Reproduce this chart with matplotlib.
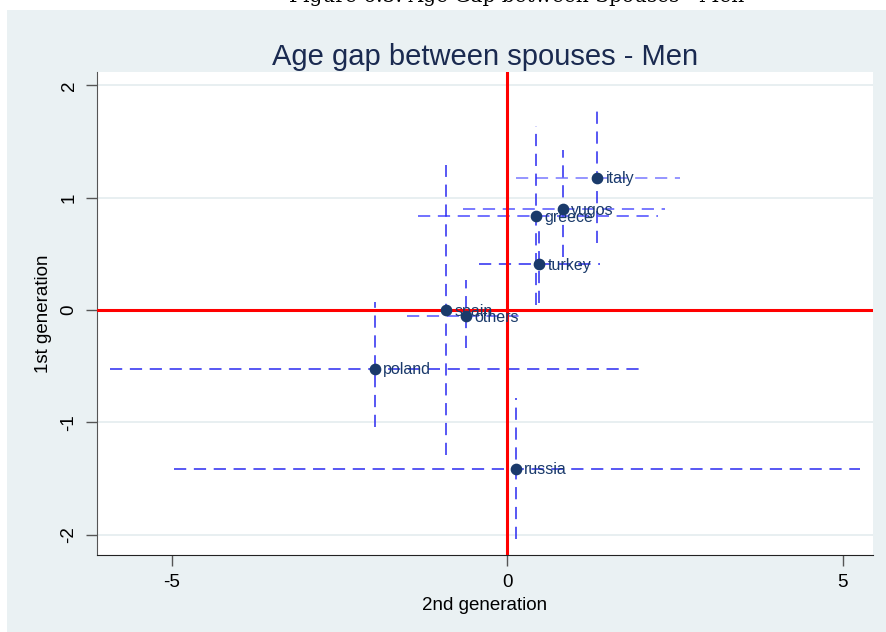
import matplotlib.pyplot as plt
from matplotlib.patches import Rectangle

plt.rcParams["axes.unicode_minus"] = False

# age gap estimates per origin group, with confidence bounds
countries = ["italy", "yugos", "greece", "turkey", "spain", "others", "poland", "russia"]
gen2 = [1.34, 0.83, 0.43, 0.48, -0.91, -0.61, -1.97, 0.13]
gen2_lo = [0.13, -0.66, -1.33, -0.42, -3.15, -1.49, -5.92, -4.96]
gen2_hi = [2.58, 2.35, 2.24, 1.39, 1.39, 0.20, 2.00, 5.26]
gen1 = [1.18, 0.90, 0.84, 0.41, 0.00, -0.05, -0.52, -1.41]
gen1_lo = [0.60, 0.47, 0.05, 0.06, -1.29, -0.34, -1.04, -2.04]
gen1_hi = [1.78, 1.43, 1.64, 0.77, 1.29, 0.27, 0.07, -0.78]
hbar_colors = ["#7878ff", "#5555ff", "#4a4aff", "#2a2af0", "#2a2af0", "#5555ff", "#2a2af0", "#2a2af0"]

navy = "#1a3a6a"
bg = "#eaf1f3"

fig = plt.figure(figsize=(8.87, 6.32), dpi=100)
fig.patch.set_facecolor("white")
fig.patches.append(Rectangle((7 / 887, 0), 1, 1 - 10 / 632, transform=fig.transFigure,
                             facecolor=bg, edgecolor="none", zorder=-10))

fig.text(0.582, 1.006, "Figure 6.5: Age Gap between Spouses - Men", ha="center", va="center",
         family="DejaVu Serif", fontsize=14.5, color="black")

ax = fig.add_axes([97 / 887, 1 - 555 / 632, (873 - 97) / 887, (555 - 72) / 632])
ax.set_facecolor("white")

dash = (0, (8, 5))
for i in range(len(countries)):
    ax.hlines(gen1[i], gen2_lo[i], gen2_hi[i], colors=hbar_colors[i], linestyles=dash, lw=1.1, zorder=2)
    ax.vlines(gen2[i], gen1_lo[i], gen1_hi[i], colors="#2a2af0", linestyles=dash, lw=1.1, zorder=2)

ax.axhline(0, color="red", lw=2.2, zorder=3)
ax.axvline(0, color="red", lw=2.2, zorder=3)

ax.scatter(gen2, gen1, s=55, color=navy, zorder=4)
for name, x, y in zip(countries, gen2, gen1):
    ax.annotate(name, (x, y), xytext=(6, -1), textcoords="offset points", va="center",
                fontsize=11.5, color=navy, family="Liberation Sans", zorder=5)

ax.set_xlim(-6.11, 5.45)
ax.set_ylim(-2.18, 2.12)
ax.set_xticks([-5, 0, 5])
ax.set_yticks([-2, -1, 0, 1, 2])
ax.grid(axis="y", color="#e4ecef", lw=1.2, zorder=0)
ax.grid(axis="x", visible=False)

for side in ["top", "right"]:
    ax.spines[side].set_visible(False)
ax.spines["left"].set_color("#555555")
ax.spines["bottom"].set_color("#222222")
ax.tick_params(length=8, width=1, color="#555555", labelsize=13.5, pad=6)
for lab in ax.get_xticklabels() + ax.get_yticklabels():
    lab.set_family("Liberation Sans")
for lab in ax.get_yticklabels():
    lab.set_rotation(90)
    lab.set_va("center")

ax.set_xlabel("2nd generation", fontsize=13.5, family="Liberation Sans", labelpad=4)
ax.set_ylabel("1st generation", fontsize=13.5, family="Liberation Sans", labelpad=6)
ax.set_title("Age gap between spouses - Men", fontsize=21, family="Liberation Sans",
             color="#1a2a50", pad=5)

fig.savefig("out.png", dpi=100, facecolor=fig.get_facecolor())
